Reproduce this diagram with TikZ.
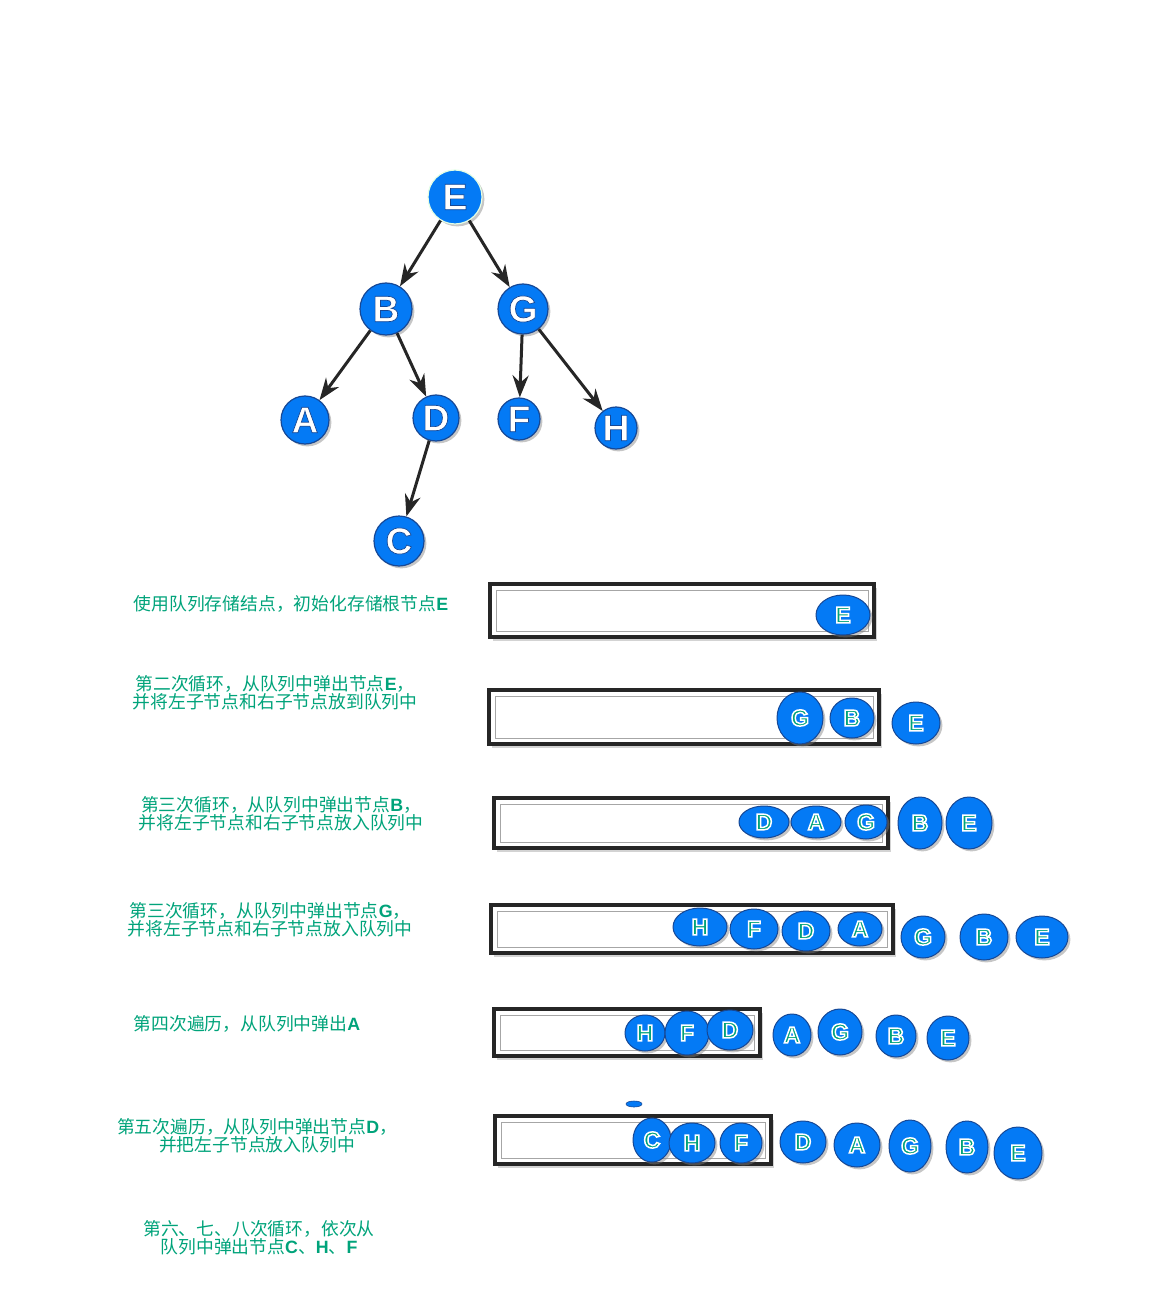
\documentclass[tikz,border=0pt]{standalone}
\usepackage{fontspec}
\setmainfont{Liberation Sans}
\newfontfamily\lat{Liberation Sans}
\newfontfamily\cjk{Noto Sans CJK SC}
\usetikzlibrary{shadows}
\usetikzlibrary{shapes.geometric}
\usetikzlibrary{arrows.meta}
\definecolor{nodeblue}{RGB}{4,122,245}
\definecolor{edgeblue}{RGB}{22,72,150}
\definecolor{textgreen}{RGB}{0,163,122}
% letters drawn as fill + stroke
\newcommand{\treelet}[1]{\textcolor{white}{\special{pdf:literal direct 2 Tr 0.35 w 0.086 0.282 0.588 RG}#1\special{pdf:literal direct 0 Tr}}}
\newcommand{\queuelet}[1]{\textcolor{textgreen}{\special{pdf:literal direct 2 Tr 0.75 w 1 1 1 RG}#1\special{pdf:literal direct 0 Tr}}}
\newcommand{\letr}[1]{{\lat\bfseries #1}}
\tikzstyle{vertex}=[circle,fill=nodeblue,draw=edgeblue,line width=0.6pt,inner sep=0pt,drop shadow={opacity=0.45,shadow xshift=1.2pt,shadow yshift=-1.2pt},font=\bfseries\fontsize{18.5}{18.5}\selectfont]
\tikzstyle{qitem}=[ellipse,fill=nodeblue,draw=edgeblue,line width=0.5pt,inner sep=0pt,drop shadow={opacity=0.45,shadow xshift=1.2pt,shadow yshift=-1.2pt},font=\bfseries\fontsize{11.5}{11.5}\selectfont]
\tikzstyle{qbox}=[draw=black!85,line width=2pt,fill=white,drop shadow={opacity=0.35,shadow xshift=1.5pt,shadow yshift=-2pt}]
\tikzstyle{qinner}=[draw=black!35,line width=0.4pt]
\tikzstyle{note}=[text=textgreen,align=center,font=\cjk\fontsize{8.9}{9}\selectfont]
\tikzstyle{edge}=[-{Stealth[length=11pt,width=8pt]},line width=1.5pt,black!85]

\begin{document}
\begin{tikzpicture}[x=0.5pt,y=-0.5pt]
  \useasboundingbox (0,0) rectangle (1152,1299);

  % tree
  \node[vertex,minimum size=27pt,draw=green!10] (E) at (455,197) {\treelet{E}};
  \foreach \pos/\name/\size in {{(386,309)/B/26pt}, {(523,309)/G/25pt}, {(305,420)/A/24pt}, {(436,418)/D/23pt}, {(519,419)/F/21pt}, {(616,428)/H/21pt}, {(399,541)/C/25pt}}
    \node[vertex,minimum size=\size] (\name) at \pos {\treelet{\name}};

  \foreach \source/\dest in {E/B, E/G, B/A, B/D, G/F, G/H, D/C}
    \draw[edge] (\source) -- (\dest);

  % queues
  \foreach \xa/\ya/\xb/\yb in {490/584/874/637, 489/690/879/744, 494/798/888/848, 491/905/893/953, 494/1009/760/1056, 495/1116/771/1164}
  {
    \draw[qbox] (\xa,\ya) rectangle (\xb,\yb);
    \draw[qinner] (\xa+6,\ya+6) rectangle (\xb-6,\yb-6);
  }

  \foreach \pos/\name/\w/\h/\lab in {
      {(843,615)/qaE/27pt/20pt/E},
      {(800,718)/qbG/23pt/26pt/G}, {(852,718)/qbB/22pt/20pt/B}, {(916,723)/qbE/24pt/21pt/E},
      {(764,822)/qcD/25pt/16pt/D}, {(816,822)/qcA/25pt/16pt/A}, {(866,822)/qcG/21pt/17pt/G}, {(920,823)/qcB/22pt/26pt/B}, {(969,823)/qcE/23pt/26pt/E},
      {(700,927)/qdH/27pt/19pt/H}, {(754,929)/qdF/24pt/20pt/F}, {(806,931)/qdD/24pt/20pt/D}, {(860,929)/qdA/22pt/17pt/A}, {(923,937)/qdG/22pt/21pt/G}, {(984,937)/qdB/24pt/23pt/B}, {(1042,937)/qdE/26pt/21pt/E},
      {(645,1033)/qeH/20pt/18pt/H}, {(687,1033)/qeF/22pt/22pt/F}, {(730,1030)/qeD/23pt/20pt/D}, {(792,1035)/qeA/19pt/21pt/A}, {(840,1032)/qeG/22pt/23pt/G}, {(896,1036)/qeB/20pt/21pt/B}, {(948,1038)/qeE/21pt/22pt/E},
      {(652,1140)/qfC/19pt/22pt/C}, {(692,1143)/qfH/23pt/20pt/H}, {(741,1143)/qfF/21pt/20pt/F}, {(803,1142)/qfD/23pt/21pt/D}, {(857,1145)/qfA/23pt/22pt/A}, {(910,1146)/qfG/21pt/26pt/G}, {(967,1147)/qfB/21pt/26pt/B}, {(1018,1153)/qfE/24pt/26pt/E}}
    \node[qitem,minimum width=\w,minimum height=\h] (\name) at \pos {\queuelet{\lab}};

  \node[ellipse,fill=nodeblue,draw=edgeblue,line width=0.3pt,inner sep=0pt,minimum width=8pt,minimum height=3pt] (dot) at (634,1104) {};

  % steps
  \node[note] (t1) at (291,604) {使用队列存储结点，初始化存储根节点\letr{E}};
  \node[note] (t2) at (275,693) {第二次循环，从队列中弹出节点\letr{E}，\\并将左子节点和右子节点放到队列中};
  \node[note] (t3) at (281,814) {第三次循环，从队列中弹出节点\letr{B}，\\并将左子节点和右子节点放入队列中};
  \node[note] (t4) at (270,920) {第三次循环，从队列中弹出节点\letr{G}，\\并将左子节点和右子节点放入队列中};
  \node[note] (t5) at (247,1024) {第四次遍历，从队列中弹出\letr{A}};
  \node[note] (t6) at (257,1136) {第五次遍历，从队列中弹出节点\letr{D}，\\并把左子节点放入队列中};
  \node[note] (t7) at (259,1238) {第六、七、八次循环，依次从\\队列中弹出节点\letr{C}、\letr{H}、\letr{F}};

\end{tikzpicture}
\end{document}
